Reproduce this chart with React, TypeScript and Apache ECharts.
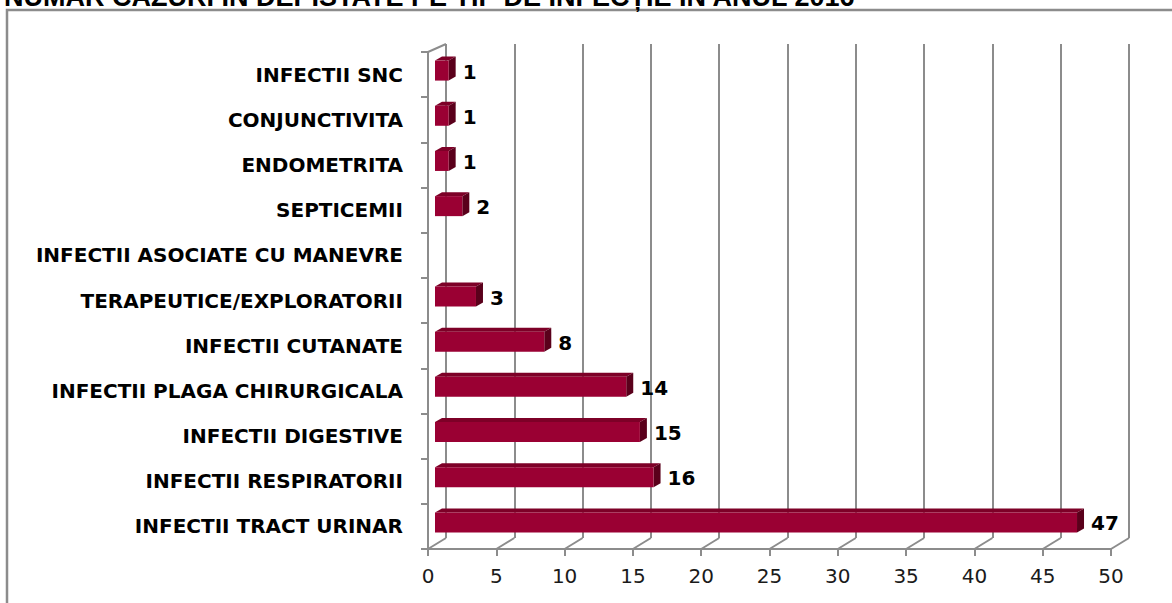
import React, { useEffect, useRef } from "react";
import * as echarts from "echarts";

const titleText = "NUMAR CAZURI IN DEPISTATE PE TIP DE INFECȚIE IN ANUL 2016";
const categories = [
  "INFECTII TRACT URINAR",
  "INFECTII RESPIRATORII",
  "INFECTII DIGESTIVE",
  "INFECTII PLAGA CHIRURGICALA",
  "INFECTII CUTANATE",
  "TERAPEUTICE/EXPLORATORII",
  "INFECTII ASOCIATE CU MANEVRE",
  "SEPTICEMII",
  "ENDOMETRITA",
  "CONJUNCTIVITA",
  "INFECTII SNC",
];
const values: (number | null)[] = [47, 16, 15, 14, 8, 3, null, 2, 1, 1, 1];
const axisMin = 0;
const axisMax = 50;
const axisStep = 5;

const GRID = "#8c8c8c";
const DEPTH_X = 18;
const DEPTH_Y = -11;
const BACK_TOP = 44;

export default function App() {
  const ref = useRef<HTMLDivElement>(null);
  useEffect(() => {
    if (!ref.current) return;
    const chart = echarts.init(ref.current, undefined, { renderer: "svg" });
    const ticks: number[][] = [];
    for (let t = axisMin; t <= axisMax; t += axisStep) ticks.push([t, 0]);
    const barData = values
      .map((v, i) => (v == null ? null : [v, i]))
      .filter((d) => d != null);

    chart.setOption({
      animation: false,
      backgroundColor: "#fff",
      graphic: [
        {
          type: "rect",
          z: -10,
          shape: { x: 7, y: 10, width: 1200, height: 700 },
          style: { fill: "none", stroke: GRID, lineWidth: 2.5 },
        },
        {
          type: "text",
          x: 4,
          y: -3,
          style: {
            text: titleText,
            font: "bold 27px 'Liberation Sans', Arial, sans-serif",
            fill: "#000",
            verticalAlign: "middle",
            align: "left",
          },
        },
      ],
      grid: [
        { left: 428, top: 52, width: 683, height: 497 },
        { left: 428 + DEPTH_X, top: BACK_TOP, width: 683, height: 549 + DEPTH_Y - BACK_TOP },
      ],
      xAxis: [
        {
          type: "value",
          gridIndex: 0,
          min: axisMin,
          max: axisMax,
          interval: axisStep,
          axisLine: { show: true, lineStyle: { color: GRID, width: 2 } },
          axisTick: { show: true, length: 7, lineStyle: { color: GRID, width: 2 } },
          splitLine: { show: false },
          axisLabel: {
            margin: 17,
            fontSize: 20,
            fontFamily: "'DejaVu Sans', Verdana, sans-serif",
            color: "#1a1a1a",
          },
        },
        {
          type: "value",
          gridIndex: 1,
          min: axisMin,
          max: axisMax,
          interval: axisStep,
          axisLine: { show: false },
          axisTick: { show: false },
          axisLabel: { show: false },
          splitLine: { show: true, lineStyle: { color: GRID, width: 2 } },
        },
      ],
      yAxis: [
        {
          type: "category",
          gridIndex: 0,
          data: categories,
          axisLine: { show: true, lineStyle: { color: GRID, width: 2 } },
          axisTick: { show: true, length: 7, lineStyle: { color: GRID, width: 2 } },
          axisLabel: {
            margin: 25,
            fontSize: 20,
            fontWeight: "bold",
            fontFamily: "'DejaVu Sans', Verdana, sans-serif",
            color: "#000",
          },
        },
        {
          type: "category",
          gridIndex: 1,
          data: categories,
          show: false,
        },
      ],
      series: [
        {
          type: "custom",
          name: "floor",
          xAxisIndex: 0,
          yAxisIndex: 0,
          clip: false,
          silent: true,
          z: 1,
          data: ticks,
          renderItem: (params: any, api: any) => {
            const t = api.value(0);
            const cs = params.coordSys;
            const x = api.coord([t, 0])[0];
            const yb = cs.y + cs.height;
            const children: any[] = [
              {
                type: "line",
                shape: { x1: x, y1: yb, x2: x + DEPTH_X, y2: yb + DEPTH_Y },
                style: { stroke: GRID, lineWidth: 2 },
              },
            ];
            if (t === axisMin) {
              children.push({
                type: "line",
                shape: { x1: x, y1: cs.y, x2: x + DEPTH_X, y2: BACK_TOP },
                style: { stroke: GRID, lineWidth: 2 },
              });
            }
            return { type: "group", children };
          },
        },
        {
          type: "custom",
          name: "cazuri",
          xAxisIndex: 0,
          yAxisIndex: 0,
          clip: false,
          z: 3,
          data: barData,
          renderItem: (params: any, api: any) => {
            const v = api.value(0);
            const i = api.value(1);
            const s = api.coord([0, i]);
            const e = api.coord([v, i]);
            const ox = 7, oy = -4, h = 20, dx = 7, dy = -4;
            const x0 = s[0] + ox;
            const x1 = e[0] + ox;
            const yc = s[1] + oy;
            const yt = yc - h / 2;
            const yb = yc + h / 2;
            return {
              type: "group",
              children: [
                {
                  type: "polygon",
                  shape: { points: [[x0, yt], [x0 + dx, yt + dy], [x1 + dx, yt + dy], [x1, yt]] },
                  style: { fill: "#7d0027" },
                },
                {
                  type: "polygon",
                  shape: { points: [[x1, yt], [x1 + dx, yt + dy], [x1 + dx, yb + dy], [x1, yb]] },
                  style: { fill: "#5a001b" },
                },
                {
                  type: "rect",
                  shape: { x: x0, y: yt, width: x1 - x0, height: h },
                  style: { fill: "#9a0033" },
                },
                {
                  type: "text",
                  x: x1 + dx + 7,
                  y: yc + 1,
                  style: {
                    text: String(v),
                    font: "bold 20px 'DejaVu Sans', Verdana, sans-serif",
                    fill: "#000",
                    verticalAlign: "middle",
                    align: "left",
                  },
                },
              ],
            };
          },
        },
      ],
    });
    return () => chart.dispose();
  }, []);
  return (
    <div
      ref={ref}
      style={{ position: "absolute", left: 0, top: 0, width: 1172, height: 603, background: "#fff" }}
    />
  );
}
